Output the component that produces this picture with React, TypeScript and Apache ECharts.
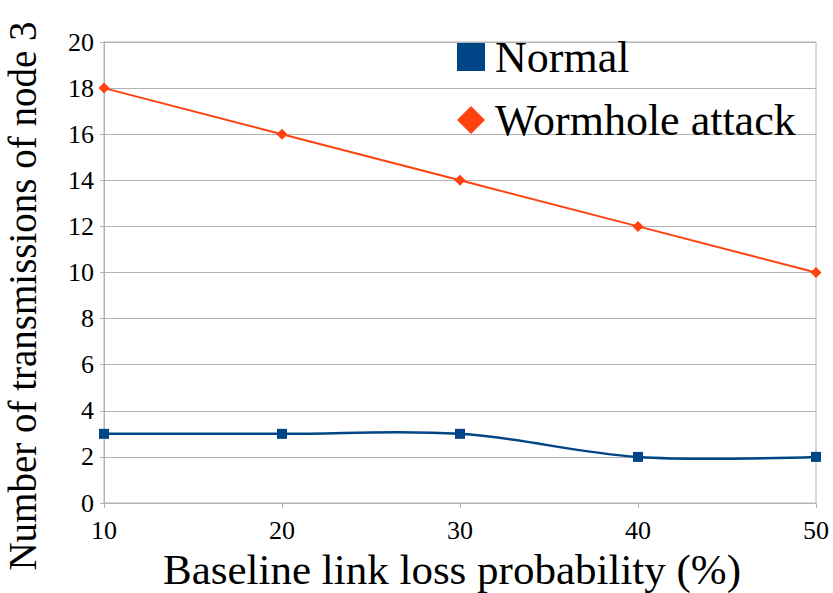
import React, { useEffect, useRef } from "react";
import * as echarts from "echarts";

const xValues = [10, 20, 30, 40, 50];
const normal = [3, 3, 3, 2, 2];
const wormhole = [18, 16, 14, 12, 10];
const seriesNames = ["Normal", "Wormhole attack"];
const xTitle = "Baseline link loss probability (%)";
const yTitle = "Number of transmissions of node 3";

const FONT = "Liberation Serif";
const GRID = "#b3b3b3";
const BLUE = "#004586";
const ORANGE = "#ff420e";

export default function App() {
  const ref = useRef<HTMLDivElement>(null);
  useEffect(() => {
    const chart = echarts.init(ref.current!, null, { renderer: "svg" });
    chart.setOption({
      animation: false,
      backgroundColor: "#ffffff",
      textStyle: { fontFamily: FONT },
      grid: {
        left: 104,
        right: 17,
        top: 42,
        bottom: 90,
        show: true,
        borderColor: GRID,
        borderWidth: 1,
        containLabel: false,
        outerBoundsMode: "none",
      },
      legend: {
        orient: "vertical",
        left: 452,
        top: 30,
        itemWidth: 28,
        itemHeight: 28,
        itemGap: 19,
        itemStyle: { borderWidth: 0 },
        textStyle: { fontFamily: FONT, fontSize: 44, color: "#000", padding: [0, 0, 0, 5] },
        data: [
          { name: seriesNames[0], icon: "rect" },
          { name: seriesNames[1], icon: "diamond" },
        ],
      },
      xAxis: {
        type: "value",
        min: 10,
        max: 50,
        interval: 10,
        name: xTitle,
        nameLocation: "middle",
        nameGap: 45,
        nameTextStyle: { fontFamily: FONT, fontSize: 43, color: "#000", padding: [0, 16, 0, 0] },
        axisLine: { show: true, lineStyle: { color: GRID, width: 1 } },
        axisTick: { show: true, length: 5, lineStyle: { color: GRID } },
        axisLabel: { fontFamily: FONT, fontSize: 26, color: "#000", margin: 14 },
        splitLine: { show: false },
      },
      yAxis: {
        type: "value",
        min: 0,
        max: 20,
        interval: 2,
        name: yTitle,
        nameLocation: "middle",
        nameGap: 62,
        nameRotate: 90,
        nameTextStyle: { fontFamily: FONT, fontSize: 39, color: "#000", padding: [0, 47, 0, 0] },
        axisLine: { show: true, lineStyle: { color: GRID, width: 1 } },
        axisTick: { show: true, length: 4, lineStyle: { color: GRID } },
        axisLabel: { fontFamily: FONT, fontSize: 26, color: "#000", margin: 10 },
        splitLine: { show: true, lineStyle: { color: GRID, width: 1 } },
      },
      series: [
        {
          name: "NormalCurve",
          type: "custom",
          silent: true,
          data: [0],
          renderItem: (params: any, api: any) => {
            const pts = xValues.map((x, i) => api.coord([x, normal[i]]));
            return {
              type: "polyline",
              shape: { points: pts, smooth: 0.36 },
              style: { stroke: BLUE, lineWidth: 2.5, fill: "none" },
            };
          },
          z: 2,
        },
        {
          name: seriesNames[0],
          type: "line",
          data: xValues.map((x, i) => [x, normal[i]]),
          symbol: "rect",
          symbolSize: 10,
          lineStyle: { width: 0, opacity: 0 },
          itemStyle: { color: BLUE },
          z: 3,
        },
        {
          name: seriesNames[1],
          type: "line",
          data: xValues.map((x, i) => [x, wormhole[i]]),
          symbol: "diamond",
          symbolSize: 11,
          lineStyle: { color: ORANGE, width: 2 },
          itemStyle: { color: ORANGE },
          z: 3,
        },
      ],
    });
    return () => chart.dispose();
  }, []);
  return <div ref={ref} style={{ width: 833, height: 593, position: "absolute", left: 0, top: 0 }} />;
}
